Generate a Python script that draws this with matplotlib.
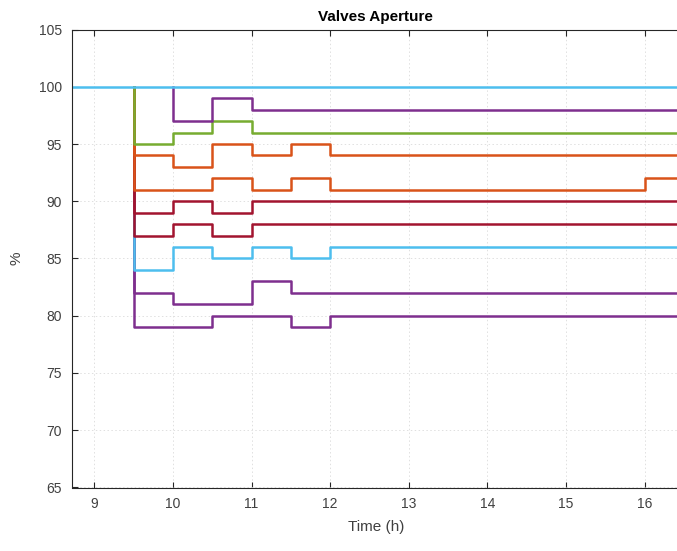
import matplotlib
matplotlib.use("Agg")
import matplotlib.pyplot as plt

plt.rcParams['font.family'] = ['Liberation Sans', 'DejaVu Sans']

# Switching instants (h); first/last points extend the traces across the axes
time_h = [8.5, 9.5, 10.0, 10.5, 11.0, 11.5, 12.0, 16.0, 16.6]

# Valve openings (%) held from each instant until the next one
valve_79 = [100, 79, 79, 80, 80, 79, 80, 80, 80]
valve_82 = [100, 82, 81, 81, 83, 82, 82, 82, 82]
valve_84 = [100, 84, 86, 85, 86, 85, 86, 86, 86]
valve_87 = [100, 87, 88, 87, 88, 88, 88, 88, 88]
valve_89 = [100, 89, 90, 89, 90, 90, 90, 90, 90]
valve_91 = [100, 91, 91, 92, 91, 92, 91, 92, 92]
valve_94 = [100, 94, 93, 95, 94, 95, 94, 94, 94]
valve_95 = [100, 95, 96, 97, 96, 96, 96, 96, 96]
valve_97 = [100, 100, 97, 99, 98, 98, 98, 98, 98]
valve_100 = [100, 100, 100, 100, 100, 100, 100, 100, 100]

series = [
    (valve_79, '#7E2F8E'),
    (valve_82, '#7E2F8E'),
    (valve_84, '#4DBEEE'),
    (valve_87, '#A2142F'),
    (valve_89, '#A2142F'),
    (valve_91, '#D95319'),
    (valve_94, '#D95319'),
    (valve_95, '#77AC30'),
    (valve_97, '#7E2F8E'),
    (valve_100, '#4DBEEE'),
]

fig = plt.figure(figsize=(6.77, 5.51), dpi=100)
W, H = 677, 551
left, right, top, bottom = 71.5, 680, 29.5, 487.5
ax = fig.add_axes([left / W, 1 - bottom / H, (right - left) / W, (bottom - top) / H])


def trace(values):
    """Drop the shared 100 % prefix so the fully open trace is drawn alone there."""
    start = next((i for i, v in enumerate(values) if v < 100), None)
    if start is None:
        return time_h, values
    return [time_h[start]] + time_h[start:], [100] + values[start:]


for values, color in series:
    xs, ys = trace(values)
    ax.plot(xs, ys, drawstyle='steps-post', color=color, lw=1.8,
            solid_joinstyle='round')

ax.set_xlim(8.71, 16.45)
ax.set_ylim(65, 105)
ax.set_xticks(range(9, 17))
ax.set_yticks(range(65, 106, 5))

axis_color = '#262626'
ax.grid(True, linestyle=(0, (1.5, 2.5)), color='#e0e0e0', lw=0.7)
ax.set_axisbelow(True)
for s in ax.spines.values():
    s.set_color(axis_color)
    s.set_linewidth(0.8)
ax.tick_params(direction='in', length=4, width=0.8, colors=axis_color,
               labelsize=10, top=True, right=False, pad=7)
ax.tick_params(labelcolor='#404040')

ax.set_title('Valves Aperture', fontsize=11, fontweight='bold', color='black', pad=6)
ax.set_xlabel('Time (h)', fontsize=11, color='#404040', labelpad=6)
ax.set_ylabel('%', fontsize=11, color='#404040', labelpad=11)

fig.savefig('out.png', dpi=100)
